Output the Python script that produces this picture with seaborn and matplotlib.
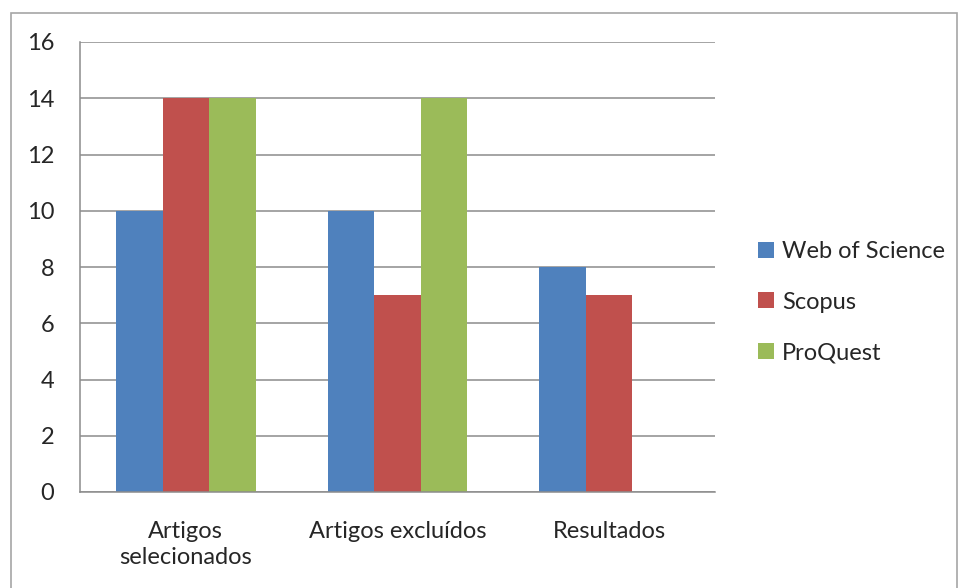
import pandas as pd
import matplotlib.pyplot as plt
import seaborn as sns
from matplotlib.patches import Rectangle

categorias = ['Artigos\nselecionados', 'Artigos excluídos', 'Resultados']
bases = ['Web of Science', 'Scopus', 'ProQuest']
web_of_science = [10, 10, 8]
scopus = [14, 7, 7]
proquest = [14, 14, 0]
cores = ['#4F81BD', '#C0504D', '#9BBB59']

df = pd.DataFrame({
    'categoria': categorias * 3,
    'base': [b for b in bases for _ in categorias],
    'valor': web_of_science + scopus + proquest,
})

sns.set_style('white')
plt.rcParams['font.family'] = ['Lato', 'DejaVu Sans']

fig = plt.figure(figsize=(9.62, 5.88), dpi=100)
ax = fig.add_axes([80 / 962, 96 / 588, 635 / 962, 450 / 588])

sns.barplot(data=df, x='categoria', y='valor', hue='base', palette=cores,
            width=0.66, gap=0, ax=ax, saturation=1, edgecolor='none')

ax.set_ylim(0, 16)
ax.set_xlim(-0.5, 2.5)
ax.set_yticks(range(0, 17, 2))
ax.yaxis.grid(True, color='#8c8c8c', linewidth=1.1)
ax.set_axisbelow(True)
ax.set_xlabel('')
ax.set_ylabel('')

for s in ['top', 'right']:
    ax.spines[s].set_visible(False)
for s in ['left', 'bottom']:
    ax.spines[s].set_color('#8c8c8c')
    ax.spines[s].set_linewidth(1.1)

ax.tick_params(axis='y', direction='out', length=6.5, width=1.1, color='#8c8c8c',
               labelsize=17, pad=12)
ax.tick_params(axis='x', which='major', length=0, labelsize=17, pad=21)
ax.set_xticks([-0.5, 0.5, 1.5, 2.5], minor=True)
ax.tick_params(axis='x', which='minor', direction='out', length=5, width=1.1, color='#8c8c8c')
for lbl in ax.get_xticklabels():
    lbl.set_linespacing(1.3)

ax.legend(loc='center left', bbox_to_anchor=(1.035, 0.422), frameon=False, fontsize=17,
          handlelength=0.65, handleheight=0.65, handletextpad=0.35, labelspacing=1.25)

fig.patches.append(Rectangle((11 / 962, -0.02), 946 / 962, 1 - 13 / 588 + 0.02,
                             transform=fig.transFigure, fill=False,
                             edgecolor='#a6a6a6', linewidth=1.2))

fig.savefig('out.png', dpi=100)
